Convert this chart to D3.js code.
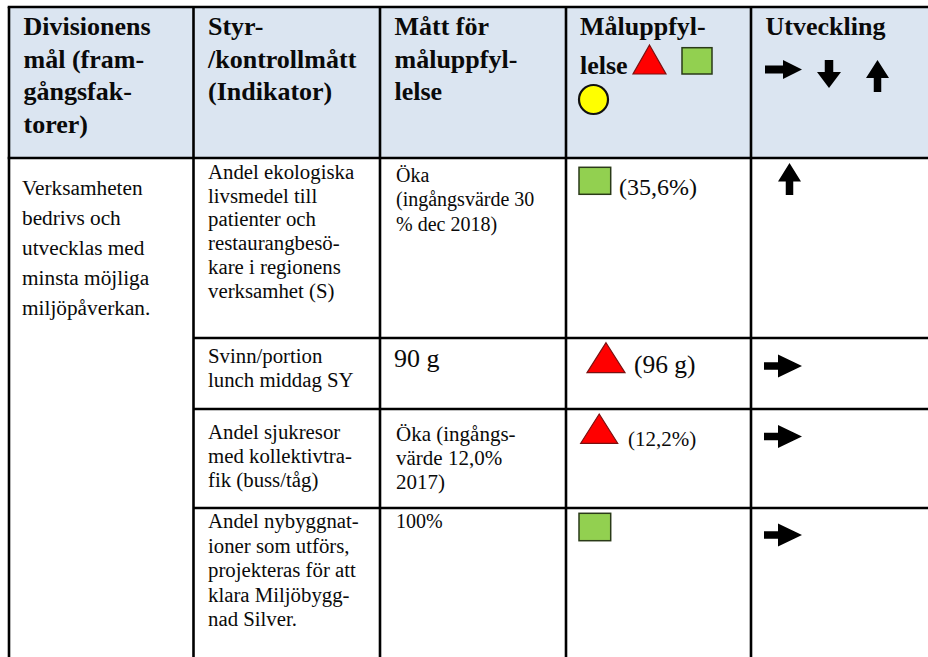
<!DOCTYPE html>
<html>
<head>
<meta charset="utf-8">
<script src="https://cdn.jsdelivr.net/npm/d3@7"></script>
<style>
  body { margin: 0; background: #fff; }
  svg { display: block; }
  svg text { font-family: "Liberation Serif", "Times New Roman", Tinos, "DejaVu Serif", serif; }
</style>
</head>
<body>
<svg id="chart" width="928" height="657"></svg>
<script>
// DATA
const headers = [
  ["Divisionens", "mål (fram-", "gångsfak-", "torer)"],
  ["Styr-", "/kontrollmått", "(Indikator)"],
  ["Mått för", "måluppfyl-", "lelse"],
  ["Måluppfyl-", "lelse"],
  ["Utveckling"]
];
const goal = ["Verksamheten", "bedrivs och", "utvecklas med", "minsta möjliga", "miljöpåverkan."];
const indicators = [
  ["Andel ekologiska", "livsmedel till", "patienter och", "restaurangbesö-", "kare i regionens", "verksamhet (S)"],
  ["Svinn/portion", "lunch middag SY"],
  ["Andel sjukresor", "med kollektivtra-", "fik (buss/tåg)"],
  ["Andel nybyggnat-", "ioner som utförs,", "projekteras för att", "klara Miljöbygg-", "nad Silver."]
];
const targets = [
  ["Öka", "(ingångsvärde 30", "% dec 2018)"],
  ["90 g"],
  ["Öka (ingångs-", "värde 12,0%", "2017)"],
  ["100%"]
];
const status = ["green", "red", "red", "green"];
const outcomes = ["(35,6%)", "(96 g)", "(12,2%)", ""];
const trends = ["up", "right", "right", "right"];
const legendStatus = ["red", "green", "yellow"];
const legendTrends = ["right", "down", "up"];

// LAYOUT
const svg = d3.select("#chart");
const colEdges = [9, 193.5, 380, 566, 751, 940];
const rowEdges = [7, 158, 338, 409, 508, 680];
const x = d3.scaleOrdinal().domain(d3.range(colEdges.length)).range(colEdges);
const y = d3.scaleOrdinal().domain(d3.range(rowEdges.length)).range(rowEdges);

const colors = { red: "#ff0000", green: "#92d050", yellow: "#ffff00" };
const strokes = { red: "#7a1010", green: "#2a3a18", yellow: "#111" };

// per-row text offsets (baseline of first line from row top) and sizes
const indFirst = [21, 24.5, 30, 20];
const indStep = [23.7, 24, 24, 24.5];
const tgtFirst = [23.5, 29, 31.5, 20];
const tgtStep = [24.7, 0, 24, 0];
const tgtSize = [20, 26, 21, 20];
const tgtDx = [16, 14, 16, 16];
const outSize = [24, 25.5, 21, 0];

// header background
svg.append("rect")
  .attr("x", x(0)).attr("y", y(0))
  .attr("width", x(5) - x(0)).attr("height", y(1) - y(0))
  .attr("fill", "#dbe5f1");

function lines(g, arr, x0, y0, step, size, weight) {
  g.append("text")
    .attr("font-size", size)
    .attr("font-weight", weight || "normal")
    .attr("fill", "#0a0a0a")
    .selectAll("tspan")
    .data(arr)
    .join("tspan")
    .attr("x", x0)
    .attr("y", (d, i) => y0 + i * step)
    .text(d => d);
}

function symbol(type, x0, y0, x1, y1) {
  if (type === "red") {
    svg.append("path")
      .attr("d", `M${(x0 + x1) / 2},${y0}L${x1},${y1}L${x0},${y1}Z`)
      .attr("fill", colors.red).attr("stroke", strokes.red).attr("stroke-width", 1.2);
  } else if (type === "green") {
    svg.append("rect")
      .attr("x", x0).attr("y", y0).attr("width", x1 - x0).attr("height", y1 - y0)
      .attr("fill", colors.green).attr("stroke", strokes.green).attr("stroke-width", 1.5);
  } else {
    svg.append("ellipse")
      .attr("cx", (x0 + x1) / 2).attr("cy", (y0 + y1) / 2)
      .attr("rx", (x1 - x0) / 2).attr("ry", (y1 - y0) / 2)
      .attr("fill", colors.yellow).attr("stroke", strokes.yellow).attr("stroke-width", 2.2);
  }
}

function arrow(dir, x0, y0, x1, y1, head, shaft) {
  const s = shaft / 2;
  let pts;
  if (dir === "right") {
    const cy = (y0 + y1) / 2, hx = x1 - head;
    pts = [[x0, cy - s], [hx, cy - s], [hx, y0], [x1, cy], [hx, y1], [hx, cy + s], [x0, cy + s]];
  } else if (dir === "up") {
    const cx = (x0 + x1) / 2, hy = y0 + head;
    pts = [[cx - s, y1], [cx - s, hy], [x0, hy], [cx, y0], [x1, hy], [cx + s, hy], [cx + s, y1]];
  } else {
    const cx = (x0 + x1) / 2, hy = y1 - head;
    pts = [[cx - s, y0], [cx - s, hy], [x0, hy], [cx, y1], [x1, hy], [cx + s, hy], [cx + s, y0]];
  }
  svg.append("path").attr("d", d3.line()(pts) + "Z").attr("fill", "#000");
}

// HEADER
headers.forEach((h, c) => {
  const g = svg.append("g");
  if (c === 3) {
    lines(g, [h[0]], x(c) + 14, 35, 0, 26, "bold");
    lines(g, [h[1]], x(c) + 14, 74, 0, 26, "bold");
  } else {
    lines(g, h, x(c) + 14.5, 35, 32.7, 26, "bold");
  }
});
// legend symbols in header
const legendBoxes = [[633, 45, 666, 74], [682, 47.7, 712, 74], [579, 85, 608, 114]];
legendStatus.forEach((t, i) => symbol(t, ...legendBoxes[i]));
const legendArrows = [[765, 60, 802, 79, 19, 8], [817, 60, 841, 88, 16, 8.5], [866, 60, 889, 92, 18, 7.5]];
legendTrends.forEach((t, i) => arrow(t, ...legendArrows[i]));

// BODY
lines(svg.append("g"), goal, x(0) + 13, y(1) + 37, 30, 21.3);

indicators.forEach((ind, r) => {
  lines(svg.append("g"), ind, x(1) + 14.5, y(r + 1) + indFirst[r], indStep[r], 20.8);
});
targets.forEach((t, r) => {
  lines(svg.append("g"), t, x(2) + tgtDx[r], y(r + 1) + tgtFirst[r], tgtStep[r], tgtSize[r]);
});

const statusBoxes = [
  [579, 167.3, 610.7, 194.3],
  [587, 342.7, 625, 372.7],
  [580.7, 414, 617.7, 443.3],
  [579, 513.3, 610.7, 540.7]
];
const outPos = [[619, 195], [634, 373], [628, 446], [0, 0]];
status.forEach((s, r) => {
  symbol(s, ...statusBoxes[r]);
  if (outcomes[r]) lines(svg.append("g"), [outcomes[r]], outPos[r][0], outPos[r][1], 0, outSize[r]);
});

const trendBoxes = [
  [778, 163, 801, 195, 18.5, 7.5],
  [764, 354.5, 802, 377.5, 24, 7.3],
  [764, 425, 802, 448, 24, 7.3],
  [764, 523.5, 802, 546.5, 24, 7.3]
];
trends.forEach((t, r) => arrow(t, ...trendBoxes[r]));

// GRID
const grid = svg.append("g").attr("stroke", "#000").attr("stroke-width", 2.6);
[0, 1].forEach(r => {
  grid.append("line").attr("x1", x(0) - 1.3).attr("x2", x(5)).attr("y1", y(r)).attr("y2", y(r));
});
[2, 3, 4].forEach(r => {
  grid.append("line").attr("x1", x(1)).attr("x2", x(5)).attr("y1", y(r)).attr("y2", y(r));
});
d3.range(5).forEach(c => {
  grid.append("line").attr("x1", x(c)).attr("x2", x(c)).attr("y1", y(0)).attr("y2", y(5));
});
</script>
</body>
</html>
